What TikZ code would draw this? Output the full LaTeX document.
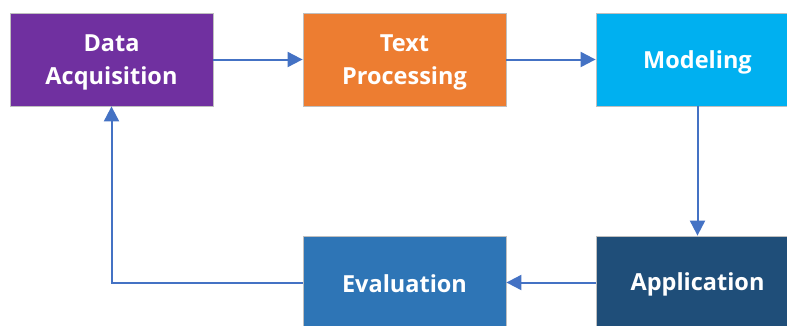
\documentclass[tikz,border=0pt]{standalone}
\usepackage{fontspec}
\setmainfont{Open Sans}
\usetikzlibrary{arrows.meta}
\definecolor{cPurple}{HTML}{7030A0}
\definecolor{cOrange}{HTML}{ED7D31}
\definecolor{cCyan}{HTML}{00B0F0}
\definecolor{cApp}{HTML}{1F4E79}
\definecolor{cEval}{HTML}{2E75B6}
\definecolor{cArrow}{HTML}{4472C4}
\definecolor{cBorder}{HTML}{BFBFBF}
\tikzset{
  x=1pt, y=-1pt,
  box/.style={rectangle, draw=cBorder, line width=0.8pt, minimum width=203pt, minimum height=93pt,
    inner sep=0pt},
  txt/.style={inner sep=0pt, align=center, text=white, font=\fontsize{23.5}{33}\selectfont\bfseries},
  conn/.style={draw=cArrow, line width=2pt, -{Triangle[length=15pt,width=15pt]}}
}
\begin{document}
\begin{tikzpicture}
\useasboundingbox (0,0) rectangle (787,325);
\clip (0,0) rectangle (787,325);
\node[box, fill=cPurple] (da) at (111.5,59.5) {};
\node[box, fill=cOrange] (tp) at (404.5,59.5) {};
\node[box, fill=cCyan] (mod) at (697.5,59.5) {};
\node[box, fill=cApp] (app) at (697.5,282.5) {};
\node[box, fill=cEval] (ev) at (404.5,282.5) {};
\node[txt] (daT) at ([yshift=-3pt]da.center) {Data\\Acquisition};
\node[txt] (tpT) at ([yshift=-3pt]tp.center) {Text\\Processing};
\node[txt] (modT) at ([yshift=-3pt]mod.center) {Modeling};
\node[txt] (appT) at ([yshift=-2pt]app.center) {Application};
\node[txt] (evT) at ([yshift=-1pt]ev.center) {Evaluation};
\draw[conn] (da.east) -- (tp.west);
\draw[conn] (tp.east) -- (mod.west);
\draw[conn] (mod.south) -- (app.north);
\draw[conn] (app.west) -- (ev.east);
\draw[conn] (ev.west) -| (da.south);
\end{tikzpicture}
\end{document}
